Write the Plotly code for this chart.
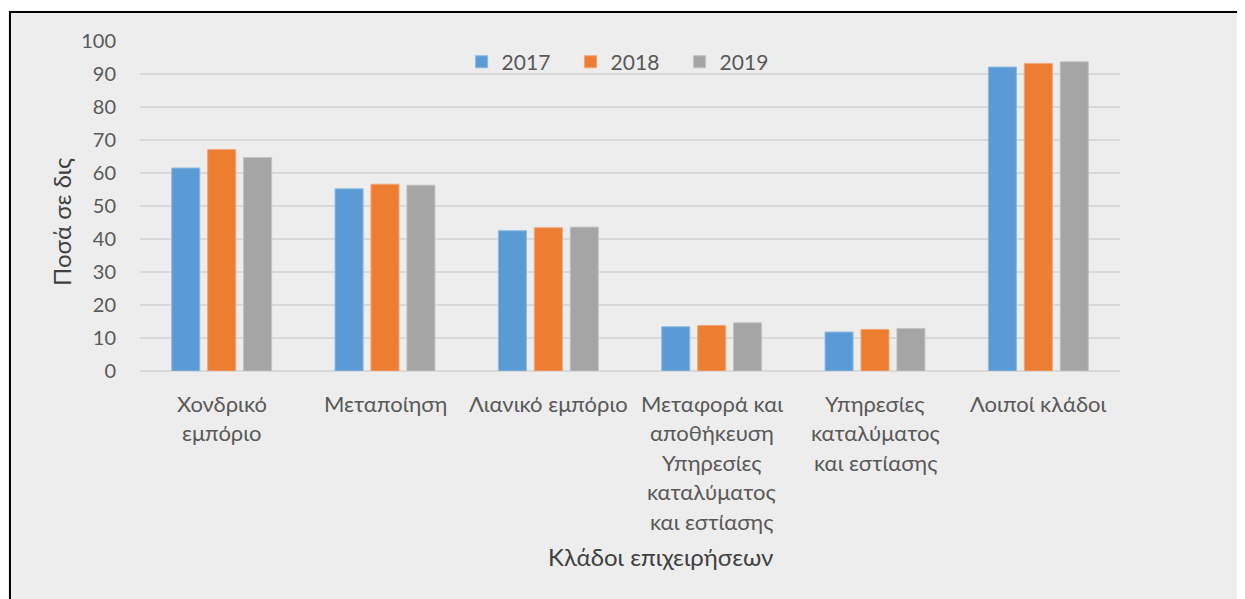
import plotly.graph_objects as go

categories = [
    "Χονδρικό εμπόριο",
    "Μεταποίηση",
    "Λιανικό εμπόριο",
    "Μεταφορά και αποθήκευση Υπηρεσίες καταλύματος και εστίασης",
    "Υπηρεσίες καταλύματος και εστίασης",
    "Λοιποί κλάδοι",
]
# wrapped tick labels as they appear under the bars
label_lines = [
    ["Χονδρικό", "εμπόριο"],
    ["Μεταποίηση"],
    ["Λιανικό εμπόριο"],
    ["Μεταφορά και", "αποθήκευση", "Υπηρεσίες", "καταλύματος", "και εστίασης"],
    ["Υπηρεσίες", "καταλύματος", "και εστίασης"],
    ["Λοιποί κλάδοι"],
]
years = ["2017", "2018", "2019"]
values_2017 = [61.5, 55.2, 42.5, 13.4, 11.8, 92.1]
values_2018 = [67.1, 56.6, 43.4, 13.8, 12.6, 93.2]
values_2019 = [64.7, 56.3, 43.6, 14.6, 12.9, 93.7]
y_ticks = [0, 10, 20, 30, 40, 50, 60, 70, 80, 90, 100]

colors = ["#5B9BD5", "#ED7D31", "#A5A5A5"]
edges = ["#8DB9E3", "#F2A477", "#C2C2C2"]
FONT = "Lato, 'Noto Sans', sans-serif"

fig = go.Figure()
for year, vals, c, e in zip(years, [values_2017, values_2018, values_2019], colors, edges):
    fig.add_trace(
        go.Bar(
            x=categories,
            y=vals,
            name=year,
            marker=dict(color=c, line=dict(color=e, width=1)),
        )
    )

# category labels, one annotation per line (Excel-like line spacing)
for cat, lines in zip(categories, label_lines):
    for j, line in enumerate(lines):
        fig.add_annotation(
            x=cat, y=0, xref="x", yref="y",
            text=line, showarrow=False,
            xanchor="center", yanchor="middle", yshift=-(32 + 29.5 * j),
            font=dict(family=FONT, size=22, color="#595959"),
        )

fig.add_annotation(
    x=0.531, y=-0.5636, xref="paper", yref="paper",
    text="Κλάδοι επιχειρήσεων", showarrow=False,
    xanchor="center", yanchor="middle",
    font=dict(family=FONT, size=24, color="#404040"),
)
fig.add_annotation(
    x=-0.0806, y=0.4515, xref="paper", yref="paper",
    text="Ποσά σε δις", showarrow=False, textangle=-90,
    xanchor="center", yanchor="middle",
    font=dict(family=FONT, size=24, color="#404040"),
)

# chart area frame
fig.add_shape(
    type="rect", xref="paper", yref="paper",
    x0=-0.1327, x1=1.16, y0=-0.75, y1=1.0879,
    fillcolor="#EDEDED", line=dict(color="black", width=2), layer="below",
)

# page body adds an 8px margin, so the figure is shifted by that amount
fig.update_layout(
    width=1237,
    height=591,
    margin=dict(l=132, r=125, t=33, b=228),
    paper_bgcolor="white",
    plot_bgcolor="rgba(0,0,0,0)",
    barmode="group",
    bargap=0.34,
    bargroupgap=0.22,
    font=dict(family=FONT, size=20, color="#595959"),
    legend=dict(
        orientation="h",
        x=0.495, xanchor="center",
        y=0.936, yanchor="middle",
        bgcolor="rgba(0,0,0,0)",
        font=dict(size=21, color="#595959"),
        entrywidth=64,
    ),
    xaxis=dict(showticklabels=False, showgrid=False, zeroline=False, ticks=""),
    yaxis=dict(
        range=[0, 100],
        tickvals=y_ticks,
        showgrid=True,
        gridcolor="#D9D9D9",
        gridwidth=1.5,
        zeroline=True,
        zerolinecolor="#D9D9D9",
        zerolinewidth=1.5,
        ticks="",
        ticklabelstandoff=23,
        tickfont=dict(size=20, color="#595959"),
    ),
)

fig.write_html("out.html")
